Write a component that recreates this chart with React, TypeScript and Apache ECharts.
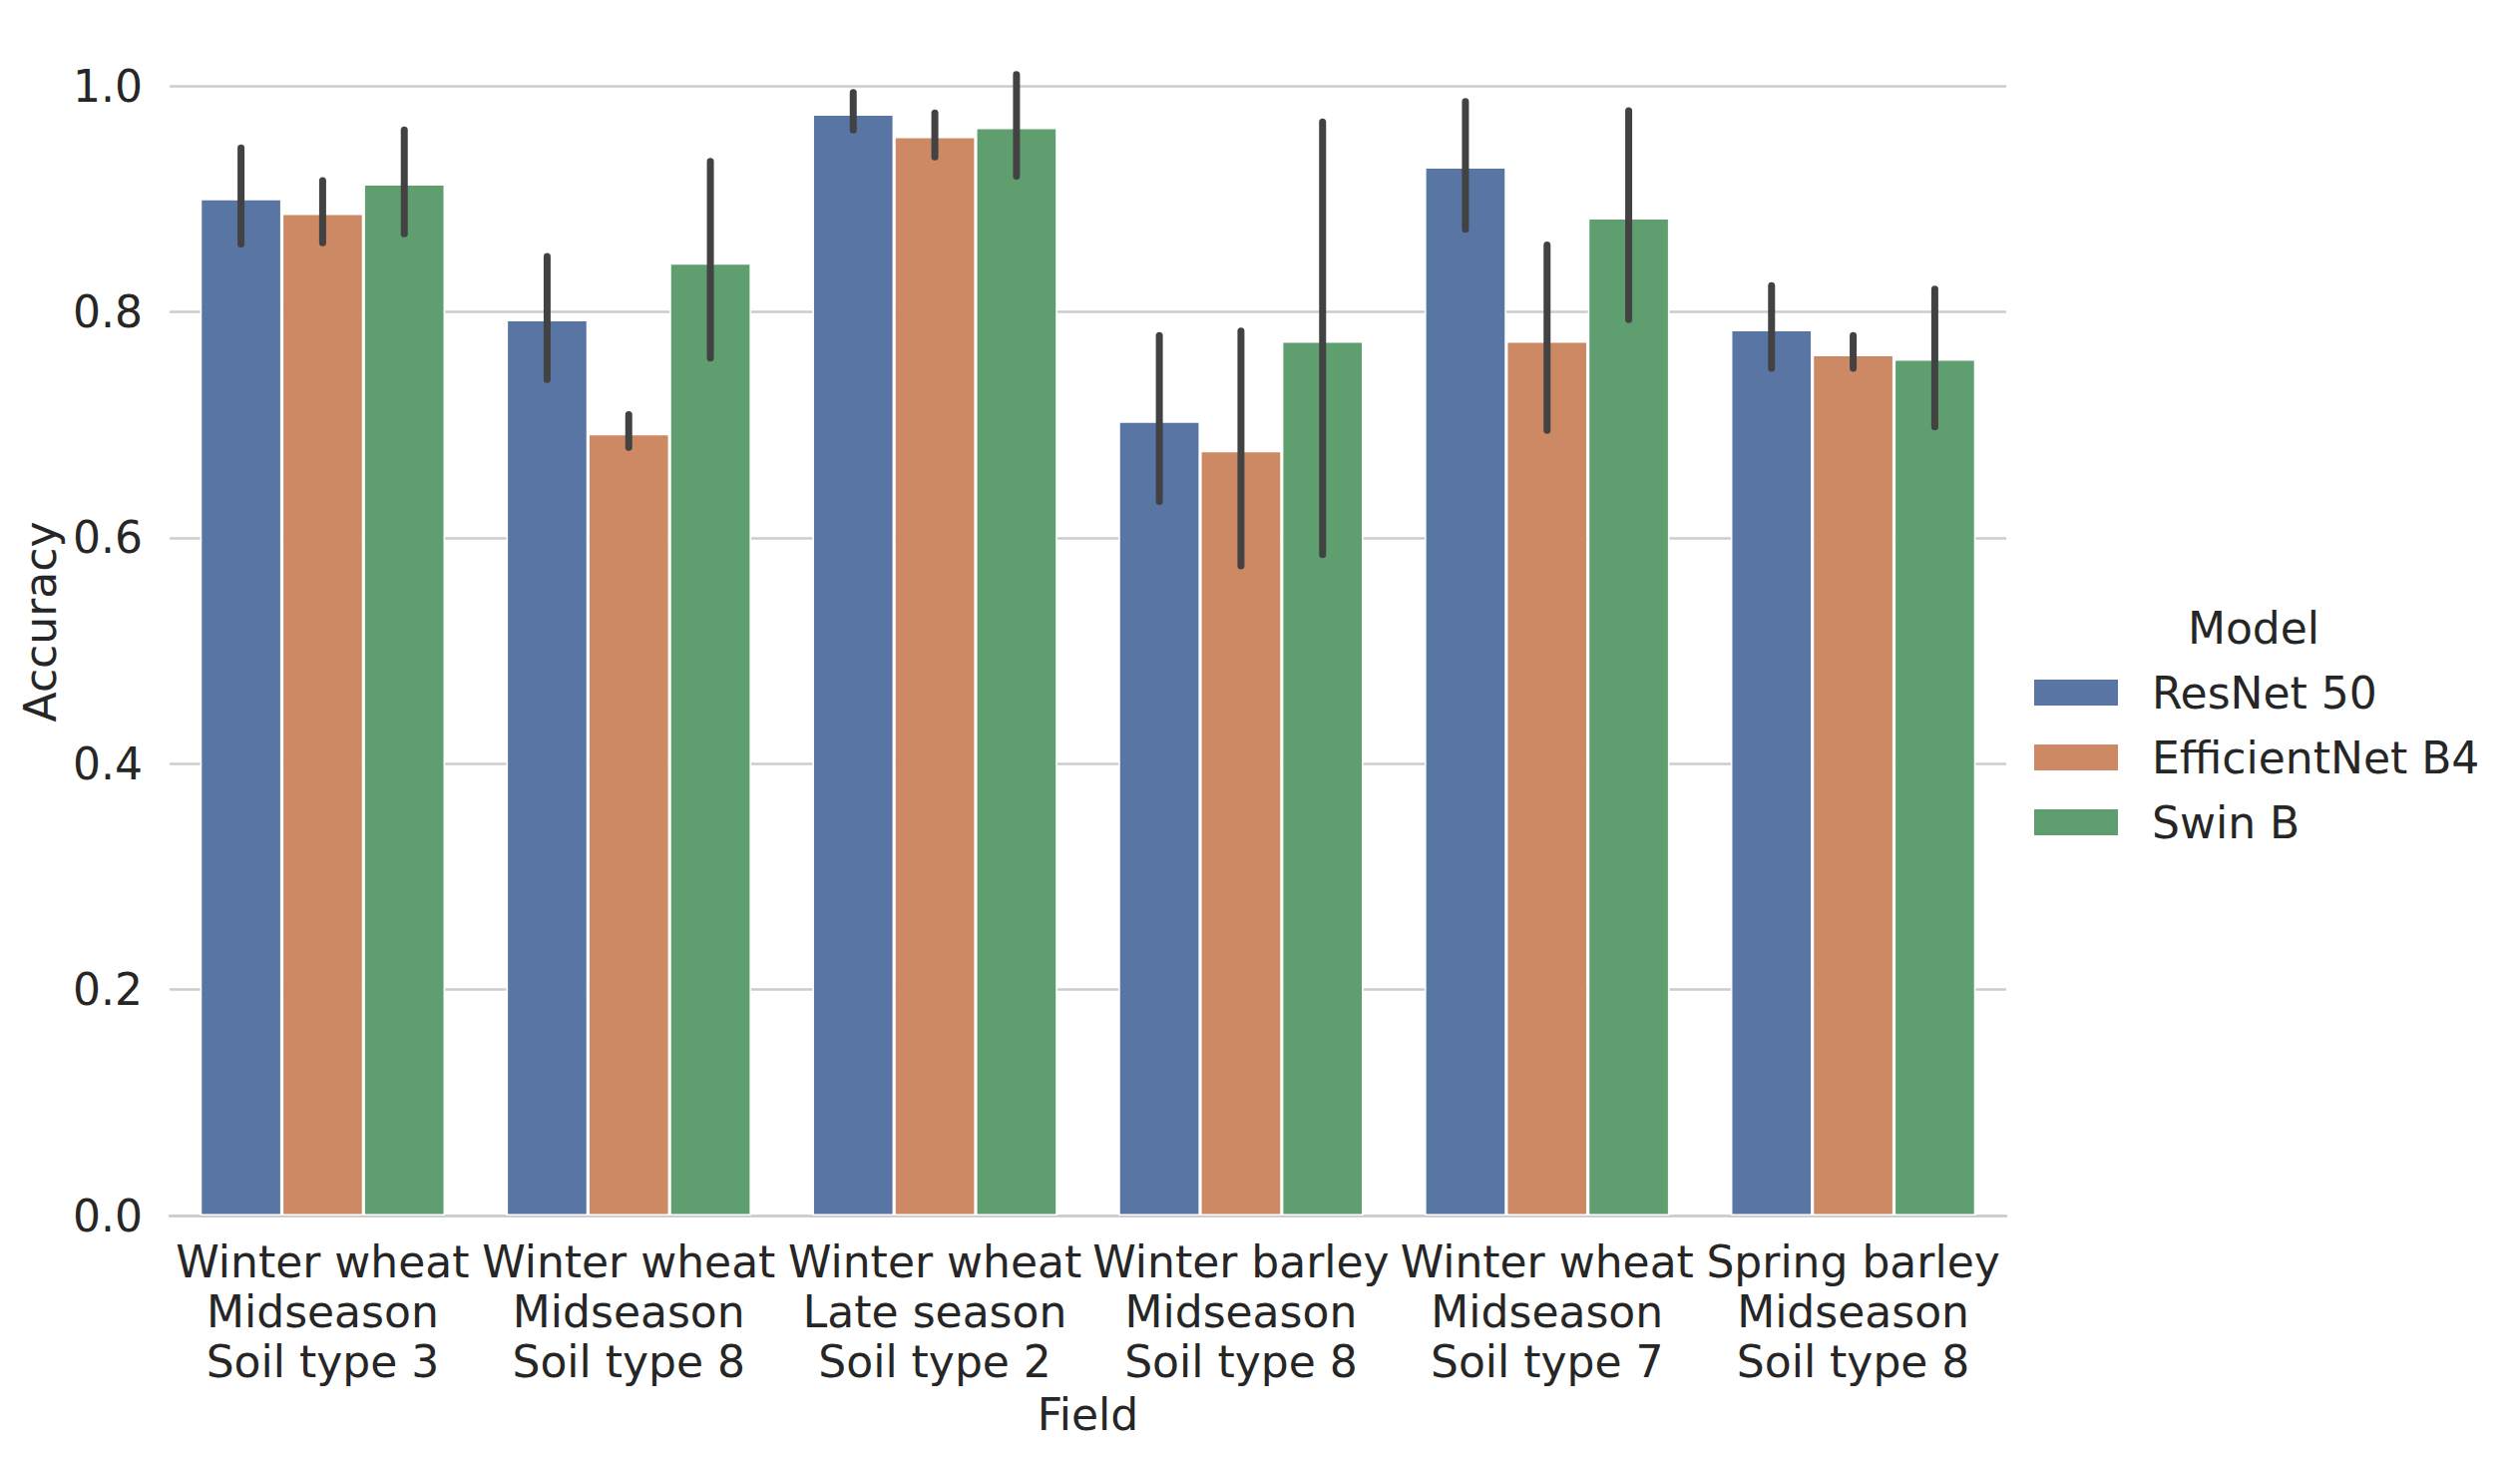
import React, { useEffect, useRef } from "react";
import * as echarts from "echarts";

const categories = [
  "Winter wheat\nMidseason\nSoil type 3",
  "Winter wheat\nMidseason\nSoil type 8",
  "Winter wheat\nLate season\nSoil type 2",
  "Winter barley\nMidseason\nSoil type 8",
  "Winter wheat\nMidseason\nSoil type 7",
  "Spring barley\nMidseason\nSoil type 8",
];
const models = ["ResNet 50", "EfficientNet B4", "Swin B"];
const colors = ["#5875a4", "#cc8963", "#5f9e6e"];
const yTicks = [0, 0.2, 0.4, 0.6, 0.8, 1.0];

const resnetMean = [0.900, 0.793, 0.975, 0.703, 0.928, 0.784];
const resnetLow = [0.860, 0.740, 0.961, 0.632, 0.873, 0.750];
const resnetHigh = [0.945, 0.849, 0.994, 0.779, 0.986, 0.823];

const effnetMean = [0.887, 0.692, 0.955, 0.677, 0.774, 0.762];
const effnetLow = [0.861, 0.680, 0.937, 0.575, 0.695, 0.750];
const effnetHigh = [0.916, 0.709, 0.976, 0.783, 0.859, 0.779];

const swinMean = [0.913, 0.843, 0.963, 0.774, 0.883, 0.758];
const swinLow = [0.869, 0.759, 0.920, 0.585, 0.793, 0.698];
const swinHigh = [0.961, 0.933, 1.010, 0.968, 0.978, 0.820];

const means = [resnetMean, effnetMean, swinMean];
const lows = [resnetLow, effnetLow, swinLow];
const highs = [resnetHigh, effnetHigh, swinHigh];

const FONT = "DejaVu Sans";
const TEXT = "#262626";

export default function App() {
  const ref = useRef<HTMLDivElement>(null);
  useEffect(() => {
    if (!ref.current) return;
    const chart = echarts.init(ref.current, null, { renderer: "svg" });
    const barSeries = models.map((m, k) => ({
      type: "bar",
      name: m,
      data: means[k],
      barGap: "0%",
      barCategoryGap: "20%",
      itemStyle: { color: colors[k], borderColor: "#ffffff", borderWidth: 1.6 },
      z: 2,
    }));
    const errSeries = models.map((m, k) => ({
      type: "custom",
      name: m + " CI",
      clip: false,
      z: 5,
      encode: { x: 0, y: [1, 2] },
      data: categories.map((_, i) => [i, lows[k][i], highs[k][i]]),
      renderItem: (params: any, api: any) => {
        const c = api.value(0);
        const p1 = api.coord([c, api.value(1)]);
        const p2 = api.coord([c, api.value(2)]);
        const band = api.size([1, 0])[0];
        const off = (k - 1) * (band * 0.8) / 3;
        return {
          type: "line",
          shape: { x1: p1[0] + off, y1: p1[1], x2: p2[0] + off, y2: p2[1] },
          style: { stroke: "#424242", lineWidth: 7, lineCap: "round" },
        };
      },
    }));
    chart.setOption({
      animation: false,
      backgroundColor: "#ffffff",
      textStyle: { fontFamily: FONT },
      grid: { left: 170, right: 515, top: 86, bottom: 243, containLabel: false, outerBoundsMode: "none" },
      xAxis: {
        type: "category",
        data: categories,
        name: "Field",
        nameLocation: "middle",
        nameGap: 177,
        nameTextStyle: { fontSize: 44, color: TEXT, fontFamily: FONT },
        axisLine: { show: true, lineStyle: { color: "#cccccc", width: 2.5 } },
        axisTick: { show: false },
        axisLabel: { fontSize: 44, lineHeight: 50, color: TEXT, margin: 21, fontFamily: FONT, interval: 0 },
        splitLine: { show: false },
      },
      yAxis: {
        type: "value",
        min: yTicks[0],
        max: yTicks[yTicks.length - 1],
        interval: 0.2,
        axisLine: { show: false },
        axisTick: { show: false },
        axisLabel: { fontSize: 44, color: TEXT, margin: 27, fontFamily: FONT, formatter: (v: number) => v.toFixed(1) },
        splitLine: { show: true, lineStyle: { color: "#cccccc", width: 2.5 } },
      },
      legend: {
        data: models,
        orient: "vertical",
        left: 2032,
        top: 667,
        itemWidth: 86,
        itemHeight: 28,
        itemGap: 21,
        icon: "rect",
        textStyle: { fontSize: 44, lineHeight: 44, color: TEXT, fontFamily: FONT, padding: [0, 0, 0, 28] },
      },
      graphic: [
        {
          type: "text",
          x: 2259,
          y: 629,
          style: { text: "Model", fontSize: 44, fill: TEXT, fontFamily: FONT, textAlign: "center", textVerticalAlign: "middle" },
        },
        {
          type: "text",
          x: 40,
          y: 623,
          rotation: Math.PI / 2,
          style: { text: "Accuracy", fontSize: 44, fill: TEXT, fontFamily: FONT, textAlign: "center", textVerticalAlign: "middle" },
        },
      ],
      series: [...barSeries, ...errSeries],
    });
    return () => chart.dispose();
  }, []);
  return (
    <div
      ref={ref}
      style={{ position: "absolute", left: 0, top: 0, width: 2526, height: 1461 }}
    />
  );
}
